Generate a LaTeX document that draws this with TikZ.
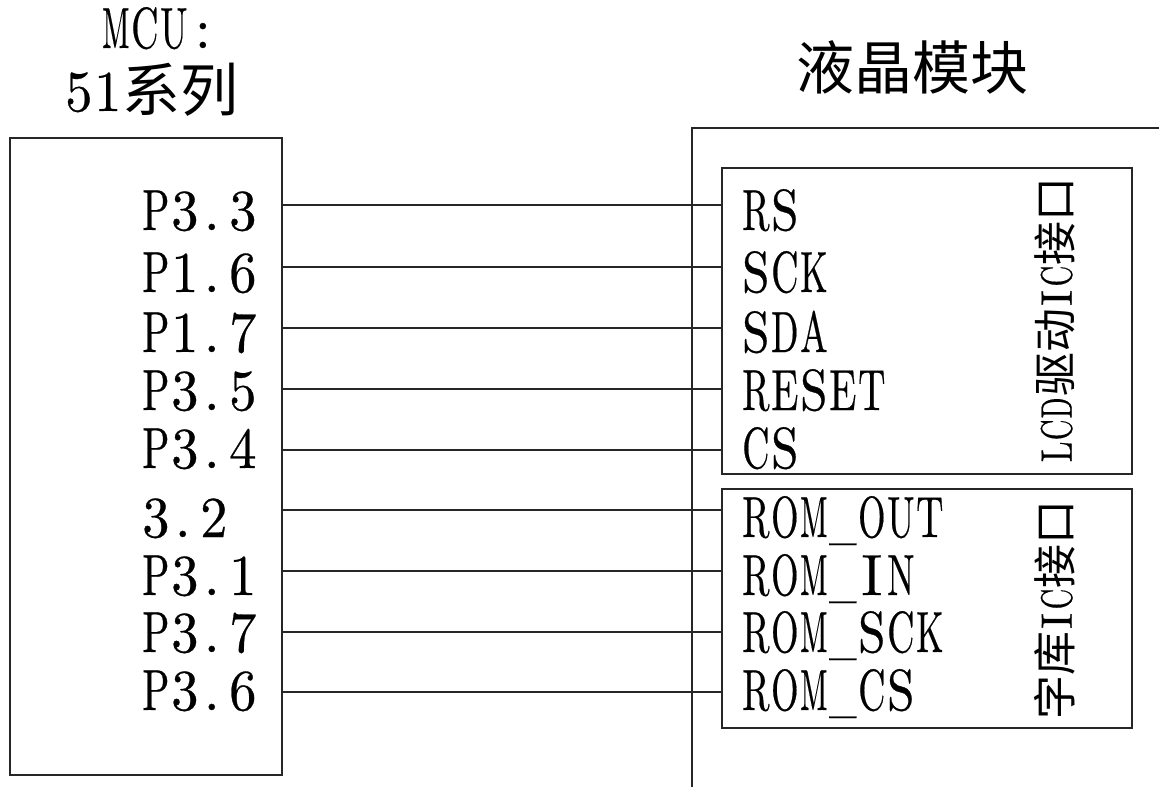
\documentclass[tikz,border=0pt]{standalone}
\usepackage{fontspec}
\usepackage{graphicx}
\setmainfont{lmroman10-regular.otf}[FakeBold=0.5]
\newfontfamily\cjk{Noto Sans CJK SC}
% half-width cells, like the font of the original
\newlength\cw
\newcommand\mono[1]{\setlength\cw{.5em}\expandafter\monoi#1\relax}
\def\monoi#1{\ifx\relax#1\else\monochar{#1}\expandafter\monoi\fi}
\newcommand\monochar[1]{\setbox0\hbox{#1}%
  \ifx.#1%
    \hbox to\cw{\hskip.15\cw#1\hss}%
  \else\ifdim\wd0>.94\cw
    \pgfmathsetmacro\monosc{.94*\the\cw/\the\wd0}%
    \hbox to\cw{\hss\scalebox{\monosc}[1]{#1}\hss}%
  \else
    \hbox to\cw{\hss#1\hss}%
  \fi\fi}

\begin{document}
\begin{tikzpicture}[x=0.2mm,y=-0.2mm,
  wire/.style={line width=0.6pt,draw=black!85},
  pinlbl/.style={inner sep=0pt,anchor=base west,font=\fontsize{33}{36}\selectfont},
  sidelbl/.style={inner sep=0pt,rotate=90,font=\fontsize{25}{28}\selectfont}]
  \useasboundingbox (0,0) rectangle (1159,787);
  \node[pinlbl] (mcu) at (101,48) {\mono{MCU:}};
  \node[pinlbl] (series) at (64,111) {\mono{51}{\cjk 系列}};
  \node[pinlbl] (lcm) at (796,89) {\cjk 液晶模块};
  \draw[wire] (10,138) rectangle (282,775);
  \draw[wire] (692,787) -- (692,128) -- (1159,128);
  \draw[wire] (722,168) rectangle (1132,474);
  \draw[wire] (722,489) rectangle (1132,728);
  \node[sidelbl] (lcdic) at (1055,320) {\mono{LCD}{\cjk 驱动}\mono{IC}{\cjk 接口}};
  \node[sidelbl] (romic) at (1055,610) {{\cjk 字库}\mono{IC}{\cjk 接口}};
  \foreach \w/\t/\p/\q [count=\i] in {205/230/P3.3/RS, 267/292/P1.6/SCK,
      328/352/P1.7/SDA, 389/410/P3.5/RESET, 450/468/P3.4/CS,
      510/537/3.2/ROM\_OUT, 571/595/P3.1/ROM\_IN, 632/652/P3.7/ROM\_SCK,
      692/710/P3.6/ROM\_CS} {
    \coordinate (w\i) at (282,\w);
    \coordinate (e\i) at (722,\w);
    \node[pinlbl] (p\i) at (141,\t) {\mono{\p}};
    \node[pinlbl] (q\i) at (741,\t) {\mono{\q}};
    \draw[wire] (w\i) -- (e\i);
  }
\end{tikzpicture}
\end{document}
